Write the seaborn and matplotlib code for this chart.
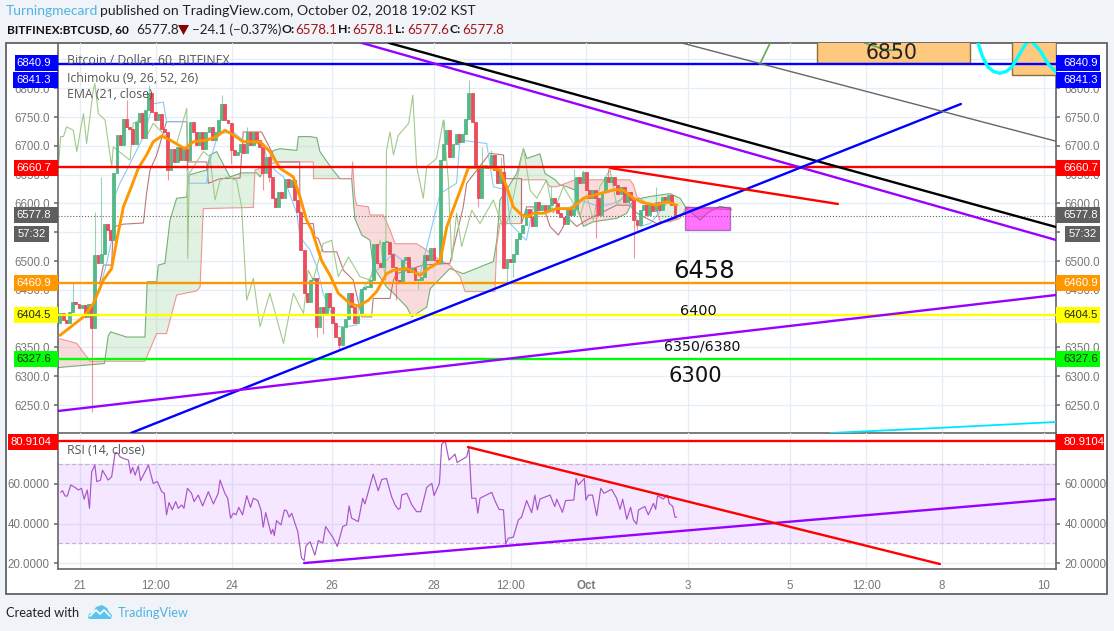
import numpy as np
import matplotlib
matplotlib.use("Agg")
import matplotlib.pyplot as plt
import seaborn as sns
from matplotlib.patches import Rectangle, Polygon

# ---------------------- DATA ----------------------
first_open = 6392
closes = [6409, 6397, 6392, 6412, 6429, 6425, 6418, 6423, 6403, 6425, 6383, 6510, 6496, 6513, 6565, 6554,
          6536, 6652, 6718, 6701, 6747, 6733, 6730, 6704, 6742, 6757, 6713, 6762, 6791, 6759, 6745, 6756,
          6730, 6724, 6658, 6695, 6672, 6698, 6675, 6695, 6675, 6742, 6724, 6701, 6724, 6695, 6724, 6733,
          6710, 6724, 6745, 6773, 6745, 6739, 6692, 6684, 6690, 6704, 6687, 6724, 6701, 6724, 6710, 6698,
          6652, 6681, 6646, 6609, 6594, 6620, 6609, 6643, 6629, 6640, 6606, 6585, 6519, 6444, 6429, 6467,
          6470, 6386, 6420, 6409, 6444, 6420, 6392, 6368, 6354, 6386, 6400, 6444, 6420, 6392, 6406, 6452,
          6455, 6455, 6467, 6530, 6496, 6490, 6533, 6533, 6513, 6490, 6467, 6464, 6501, 6507, 6481, 6487,
          6467, 6467, 6473, 6510, 6501, 6522, 6501, 6496, 6675, 6704, 6727, 6681, 6704, 6721, 6707, 6721,
          6747, 6791, 6742, 6661, 6609, 6661, 6664, 6661, 6684, 6658, 6635, 6655, 6487, 6504, 6499, 6513,
          6539, 6548, 6562, 6591, 6577, 6560, 6603, 6589, 6597, 6589, 6597, 6609, 6600, 6583, 6577, 6565,
          6589, 6580, 6591, 6646, 6635, 6655, 6623, 6609, 6623, 6609, 6580, 6620, 6646, 6638, 6646, 6632,
          6617, 6629, 6603, 6620, 6606, 6571, 6562, 6589, 6597, 6580, 6597, 6586, 6603, 6589, 6612, 6606,
          6615, 6597, 6580, 6577.8]
wick_high = {4: 6461, 11: 6585, 13: 6646, 21: 6779, 28: 6806, 51: 6788, 59: 6732, 121: 6745, 129: 6814,
             133: 6698, 136: 6692, 139: 6680, 162: 6660, 165: 6658, 173: 6661, 188: 6629, 155: 6630}
wick_low = {10: 6238, 34: 6640, 40: 6660, 54: 6669, 64: 6623, 66: 6637, 81: 6368, 83: 6374, 88: 6348,
            106: 6432, 113: 6452, 132: 6594, 141: 6460, 143: 6473, 169: 6540, 181: 6505, 182: 6554}

ema_x = [0, 2.1, 7.4, 10.5, 13.7, 16.3, 17.9, 20, 22.1, 24.7, 27.3, 29.4, 32.1, 34.7, 39.4, 42.1, 46.3, 49.4,
         52, 54.7, 57.8, 63.1, 66.2, 69.4, 73.6, 75.7, 77.8, 79.4, 82.5, 85.2, 87.8, 91.5, 94.1, 97.3, 99.9,
         103, 105.2, 109.4, 113.6, 116.2, 119.9, 122, 124.1, 126.7, 128.8, 134.6, 138.8, 140.9, 143, 145.6,
         147.7, 149.3, 152.5, 156.7, 161.4, 165.1, 170.3, 175.1, 177.7, 180.9, 184, 188.2, 191.4, 194.6]
ema_y = [6371, 6380, 6403, 6426, 6467, 6487, 6536, 6594, 6623, 6661, 6684, 6707, 6717, 6710, 6695, 6707, 6710,
         6716, 6727, 6719, 6707, 6707, 6690, 6661, 6646, 6611, 6571, 6554, 6501, 6475, 6444, 6426, 6422, 6432,
         6447, 6478, 6484, 6487, 6475, 6487, 6499, 6559, 6591, 6629, 6662, 6664, 6658, 6629, 6594, 6580, 6577,
         6583, 6583, 6591, 6591, 6609, 6617, 6624, 6623, 6609, 6601, 6597, 6603, 6597]

lead_a_x = [-0.6, 14, 15.2, 16, 21, 26.8, 27.5, 30.5, 31, 33.1, 34.7, 36.8, 40, 40.5, 44.2, 46.3, 47.3, 49.4, 53.6,
            57.3, 62, 63.1, 67.3, 69.4, 74.7, 75.2, 78.9, 81, 82, 85.7, 88.3, 92, 93, 95.2, 97.8, 98.8, 103, 105.2,
            109.4, 111, 115.7, 116.8, 123, 127.2, 136.7, 137.8, 138.8, 144.1, 146.2, 147.3, 151.4, 153, 156.2,
            157.7, 159.8, 162.5, 163.5, 165.1, 168.2, 175.6, 178.8, 180.9, 186.1, 192.4, 195.6, 197.7, 202, 204.1,
            208.2, 211.9]
lead_a_y = [6315, 6322, 6370, 6377, 6368, 6368, 6464, 6464, 6493, 6496, 6571, 6609, 6611, 6649, 6655, 6658, 6684,
            6690, 6646, 6653, 6653, 6646, 6692, 6695, 6692, 6716, 6716, 6714, 6690, 6661, 6643, 6643, 6574, 6545,
            6536, 6490, 6455, 6444, 6420, 6403, 6420, 6452, 6487, 6478, 6499, 6536, 6606, 6652, 6695, 6678, 6686,
            6652, 6641, 6632, 6629, 6623, 6589, 6560, 6568, 6574, 6583, 6606, 6612, 6617, 6609, 6591, 6571, 6583,
            6595, 6590]
lead_b_x = [0, 5.3, 8.4, 9.5, 26.8, 30.5, 33.6, 34.7, 36.8, 43.1, 44.2, 45.2, 61, 61.5, 68.4, 79.9, 80, 92, 92.3, 93,
            93.6, 97.3, 97.8, 102, 104.1, 105.7, 112.5, 115.7, 119.9, 123, 126.2, 127.8, 137.2, 137.8, 138.8, 145.5,
            145.6, 149.3, 153, 154.6, 156.7, 162.5, 179.8, 180.9, 182, 188.2, 189.3, 192.4, 195.6, 197.7, 202, 211.9]
lead_b_y = [6365, 6357, 6334, 6326, 6326, 6374, 6374, 6397, 6441, 6448, 6455, 6591, 6593, 6658, 6672, 6672, 6643, 6643,
            6672, 6611, 6597, 6594, 6580, 6580, 6554, 6530, 6530, 6519, 6501, 6493, 6473, 6447, 6447, 6530, 6565, 6565,
            6641, 6641, 6641, 6629, 6629, 6641, 6641, 6632, 6612, 6589, 6568, 6568, 6574, 6594, 6591, 6589]

base_x = [12.6, 13.7, 16.3, 16.8, 20, 26.3, 27.3, 28.4, 30.5, 33.6, 40, 40.5, 46.3, 46.8, 50.5, 56.8, 57.8, 63.6, 65.2,
          68.4, 75.6, 75.7, 79.9, 80.4, 81.5, 83, 87.3, 89.4, 92.5, 95.2, 98.3, 98.8, 104.1, 105.2, 106.2, 114.6, 123,
          127.2, 128.3, 135.6, 139.9, 140.4, 145.6, 145.6, 147.2, 152.5, 154.6, 157.2, 158.8, 159.8, 163, 166.1, 175.6,
          179.8, 182, 188.2, 194.6]
base_y = [6464, 6493, 6493, 6559, 6564, 6566, 6617, 6658, 6684, 6742, 6742, 6672, 6672, 6635, 6643, 6644, 6724, 6724, 6707,
          6672, 6672, 6565, 6565, 6542, 6539, 6516, 6516, 6484, 6467, 6403, 6403, 6435, 6435, 6467, 6478, 6493, 6496,
          6594, 6635, 6687, 6684, 6643, 6643, 6565, 6594, 6594, 6560, 6545, 6560, 6577, 6560, 6571, 6597, 6597, 6583,
          6565, 6574]

conv_x = [13.1, 14.7, 16.3, 17.4, 18.9, 22.1, 26.3, 29.4, 32.6, 33.6, 40, 40.5, 46.3, 46.8, 49.9, 54.7, 58.9, 64.1, 65.7,
          68.4, 70.5, 74.7, 75.7, 78.9, 81, 83, 87.3, 90.4, 93.6, 94.6, 98.8, 105.2, 113.6, 119.9, 125.1, 126.2, 134.6,
          136.7, 140.9, 142, 145, 147.1, 149.3, 159.8, 164, 170.3, 174.5, 178.8, 183, 186.1, 191.4, 193.5]
conv_y = [6464, 6496, 6536, 6614, 6635, 6669, 6716, 6773, 6776, 6742, 6742, 6635, 6635, 6664, 6721, 6724, 6704, 6704, 6669,
          6655, 6646, 6583, 6542, 6519, 6490, 6444, 6386, 6386, 6389, 6444, 6478, 6513, 6478, 6617, 6635, 6710, 6704,
          6629, 6623, 6565, 6548, 6536, 6594, 6589, 6606, 6594, 6600, 6612, 6560, 6565, 6600, 6606]

lag_x = [-0.5, 0.2, 1.1, 2.1, 4.2, 5.3, 7.4, 8.4, 10.5, 11, 12.1, 14.2, 16.3, 16.8, 22.1, 23.1, 25.2, 27.3, 29.4, 33.6,
         36.8, 40, 40.3, 40.8, 45.2, 47.3, 48.9, 50.5, 52.6, 55.7, 57.3, 58.9, 61, 63.1, 66.2, 70.5, 73.6, 76.8, 78.3,
         79.9, 83, 85.7, 87.8, 91, 94.6, 97.8, 101, 102.7, 103, 104.1, 105.2, 106.7, 110, 111.3, 112.5, 114.6, 115.7,
         118.8, 120.9, 122.5, 123.6, 125.1, 126.7, 129.9, 132.5, 136.7, 140, 142, 144.1, 146.2, 148.3, 150.4, 153.5,
         155.6, 158.8, 162, 164, 166.1, 168.2, 170.3, 173.5, 175.6, 177.7]
lag_y = [6664, 6716, 6716, 6733, 6727, 6690, 6756, 6704, 6797, 6808, 6756, 6745, 6664, 6698, 6675, 6739, 6745, 6716, 6739,
         6716, 6704, 6765, 6504, 6652, 6690, 6681, 6606, 6640, 6646, 6640, 6594, 6432, 6470, 6386, 6444, 6357, 6444, 6409,
         6484, 6467, 6530, 6536, 6473, 6507, 6473, 6467, 6536, 6467, 6692, 6724, 6684, 6718, 6739, 6788, 6664, 6609, 6664,
         6678, 6745, 6640, 6501, 6583, 6525, 6588, 6565, 6606, 6554, 6583, 6640, 6696, 6623, 6609, 6641, 6583, 6629, 6600,
         6577, 6615, 6571, 6629, 6658, 6597, 6612]

rsi_x = [0.2, 0.8, 1.6, 2.3, 3.4, 4.7, 5.8, 6.8, 7.6, 8.6, 9.3, 10, 11, 11.6, 12.8, 13.4, 15.2, 16.3, 17.4, 18.1, 18.9, 20,
         21.6, 22.3, 22.9, 23.7, 24.7, 25.4, 27.9, 29.4, 30.7, 32.1, 32.9, 33.6, 34.4, 35.4, 36.5, 37.3, 38.4, 39.1, 40.2,
         41.5, 42.3, 43.6, 45, 46.8, 48.4, 49.9, 50.5, 52, 52.9, 53.8, 54.7, 55.5, 56.4, 57.6, 58.9, 60.1, 61, 62.4, 63.4,
         64.1, 64.9, 66.6, 67.1, 67.6, 68.3, 69.7, 70.8, 71.5, 72.3, 73.1, 74.1, 75, 76.2, 77, 77.6, 78.9, 80.4, 81.5, 82.9,
         83.8, 84.6, 86.2, 87.5, 89.2, 90.4, 91.2, 92, 94.1, 95.5, 96.2, 98.8, 100.4, 101.5, 103, 104.6, 105.7, 106.7, 107.3,
         107.8, 109.4, 111, 112.5, 113.8, 115.7, 117.3, 118, 119.7, 120.4, 121.5, 122.7, 124.6, 125.3, 128.3, 129, 129.9,
         131.2, 131.8, 132.5, 136.2, 137.2, 138.5, 139.9, 140.6, 141.4, 143, 144.6, 145.6, 147.2, 148.8, 149.8, 150.6, 151.4,
         154.6, 156.1, 156.7, 158.5, 159.5, 162.1, 162.8, 163.5, 165.4, 165.9, 166.7, 168, 169.3, 170.6, 171.6, 174, 175.6,
         176.7, 177.5, 178.8, 180, 180.9, 181.9, 182.5, 184.5, 185.6, 187.2, 187.9, 188.5, 190.3, 191.6, 192.2, 193.3, 194,
         194.6]
rsi_y = [55.8, 56.6, 53.9, 53.9, 59.5, 58.3, 57, 57.8, 52.3, 57, 47.7, 66.2, 69.6, 61.2, 62, 67, 62, 63.7, 75.8, 75.8, 73.8,
         72.9, 72.1, 65.4, 68.4, 64.5, 69.1, 61.7, 69.6, 60.3, 61.2, 56.1, 55.3, 44.4, 50.6, 46.9, 51.1, 47.7, 49.4, 47.7,
         57.8, 55.3, 51.1, 54.4, 48.9, 56.1, 49.9, 55.3, 62, 55.3, 52.8, 42.7, 45.2, 44.4, 48.2, 44.4, 54.1, 48.2, 52.8, 51.6,
         46.9, 38.1, 45.5, 34.8, 37.1, 33.9, 41.5, 39.3, 46.9, 46.5, 43.2, 45.2, 40.2, 36, 22.5, 21.3, 28.7, 30.8, 24, 31.4,
         30.1, 38.5, 36.5, 32.6, 28.4, 38.5, 39.3, 48.9, 42.7, 41, 52.8, 49.9, 65, 56.6, 62.3, 62.8, 53.6, 49.4, 47.2, 47.7,
         54.4, 55.3, 49.4, 46, 46, 58.3, 60.3, 54.1, 60.3, 80.1, 81.8, 72.1, 75.1, 70.9, 73.8, 78.5, 52.8, 52.8, 45.2, 52.8,
         55.8, 51.6, 47.2, 46.9, 29.7, 32.6, 33.1, 41.8, 43.2, 51.6, 45.5, 54.4, 46.9, 52.4, 54.4, 48.6, 52.3, 45.7, 51.6, 51.9,
         62.8, 59.5, 62.8, 51.9, 54.4, 54.4, 44, 57.8, 55.3, 57.3, 52.8, 47.2, 52.3, 42.2, 48.2, 41.8, 39.7, 46.9, 48.6, 44.4,
         50.2, 47.2, 54.1, 52.4, 54.4, 50.2, 48.6, 43.2, 43.2]

hline_prices = [6842.9, 6662.7, 6462, 6406, 6330.5]
hline_colors = ['#0000FF', '#FF0000', '#FF9800', '#FFFF00', '#00FF00']

price_ticks = [6250, 6300, 6350, 6400, 6450, 6500, 6550, 6600, 6650, 6700, 6750, 6800, 6850]
rsi_ticks = [20, 40, 60]
time_ticks = [6.3, 30.3, 54.3, 85.8, 118, 142.3, 165.9, 198.1, 230.3, 254.3, 278.2, 310.4]
time_labels = ['21', '12:00', '24', '26', '28', '12:00', 'Oct', '3', '5', '12:00', '8', '10']

# ---------------------- STYLE ----------------------
sns.set_theme(style="white")
plt.rcParams['font.family'] = ['Open Sans', 'DejaVu Sans']

W, H = 1114, 631
GREEN, RED = '#53B987', '#EB4D5C'
TICK_FONT = 'Liberation Sans'
HEAD_FONT = 'Lato'

fig = plt.figure(figsize=(W / 100, H / 100), dpi=100, facecolor='#F0F3F7')


def px_axes(left, top, right, bottom):
    return [left / W, 1 - bottom / H, (right - left) / W, (bottom - top) / H]


bg = fig.add_axes([0, 0, 1, 1], zorder=0)
bg.set_xlim(0, W)
bg.set_ylim(H, 0)
bg.axis('off')
bg.add_patch(Rectangle((6, 43), 1101, 551, facecolor='white', edgecolor='#555555', linewidth=1.2))

ax = fig.add_axes(px_axes(58, 43, 1056, 433), zorder=1)
ax2 = fig.add_axes(px_axes(58, 433, 1056, 569), zorder=1)

top = fig.add_axes([0, 0, 1, 1], zorder=5)
top.set_xlim(0, W)
top.set_ylim(H, 0)
top.axis('off')
top.patch.set_alpha(0)


def draw(target, xs, ys, color, lw, z=3, alpha=1.0, ls='-'):
    sns.lineplot(x=xs, y=ys, ax=target, color=color, linewidth=lw, estimator=None, sort=False,
                 errorbar=None, legend=False, zorder=z, alpha=alpha, linestyle=ls)


# =========================================================
# Ichimoku cloud
# =========================================================
cloud_x = np.array(sorted(set(lead_a_x) | set(lead_b_x)))
a_line = np.interp(cloud_x, lead_a_x, lead_a_y)
b_line = np.interp(cloud_x, lead_b_x, lead_b_y)
ax.fill_between(cloud_x, a_line, b_line, where=a_line >= b_line, interpolate=True, color='#A5D6A7', alpha=0.33,
                linewidth=0, zorder=1.5)
ax.fill_between(cloud_x, a_line, b_line, where=a_line < b_line, interpolate=True, color='#EF9A9A', alpha=0.35,
                linewidth=0, zorder=1.5)
draw(ax, lead_a_x, lead_a_y, '#66A868', 0.8, z=2, alpha=0.9)
draw(ax, lead_b_x, lead_b_y, '#F08A8A', 0.8, z=2, alpha=0.9)
draw(ax, base_x, base_y, '#B5696B', 0.8, z=2, alpha=0.9)
draw(ax, conv_x, conv_y, '#7EC4F5', 0.8, z=2, alpha=0.9)
draw(ax, lag_x, lag_y, '#A2C98A', 0.8, z=2)

# =========================================================
# Candles
# =========================================================
opens = [first_open] + closes[:-1]
bars = np.arange(len(closes))
candle_colors = [GREEN if c >= o else RED for o, c in zip(opens, closes)]
for i, (o, c) in enumerate(zip(opens, closes)):
    hi = wick_high.get(i, max(o, c))
    lo = wick_low.get(i, min(o, c))
    ax.vlines(i, lo, hi, color=candle_colors[i], linewidth=0.8, alpha=0.6, zorder=2.8)
body_low = np.minimum(opens, closes)
body_h = np.maximum(np.abs(np.array(closes) - np.array(opens)), 1)
ax.bar(bars, body_h, bottom=body_low, width=0.9, linewidth=0.6, zorder=3, color=candle_colors,
       edgecolor=candle_colors)

ax.axhline(closes[-1], color='#666666', linewidth=0.8, linestyle=':', zorder=2.5)
draw(ax, ema_x, ema_y, '#FF9800', 2.1, z=4)

# =========================================================
# Drawings on the price pane
# =========================================================
ax.add_patch(Rectangle((238.8, 6844), 48.3, 60, facecolor='#FFC87F', edgecolor='#8A6D3B', linewidth=1, zorder=4.4))
ax.add_patch(Rectangle((300.3, 6823), 14, 80, facecolor='#FFC87F', edgecolor='#8A6D3B', linewidth=1, zorder=4.4))
ax.add_patch(Rectangle((197.2, 6553.8), 14.2, 40, facecolor='#FF00FF', alpha=0.55, edgecolor='#7B2D8B', linewidth=1,
                       zorder=4.4))

for value, col in zip(hline_prices, hline_colors):
    ax.axhline(value, color=col, linewidth=1.7, zorder=4.5)

draw(ax, [103.8, 314.2], [6878.5, 6559], '#000000', 1.7, z=5)
draw(ax, [95.3, 314.2], [6878.5, 6536.5], '#9900FF', 1.7, z=5)
draw(ax, [22.4, 284.2], [6201.4, 6772.6], '#0000FF', 1.7, z=5)
draw(ax, [-0.6, 314.2], [6239.6, 6441], '#9900FF', 1.7, z=5)
draw(ax, [173.5, 245.4], [6661.5, 6599], '#FF0000', 1.7, z=5)
draw(ax, [196.2, 314.2], [6878.5, 6708], '#666666', 1.0, z=5)
draw(ax, [243, 280, 314.2], [6201.4, 6211, 6220.5], '#00E5FF', 1.3, z=5)
draw(ax, [289.6, 291, 292.7, 294.5, 296.5, 298.5, 300.3, 302.5, 304.4, 306, 309.1, 312, 314.2],
     [6878.5, 6855, 6837, 6829, 6826, 6829, 6837, 6857, 6875, 6884, 6866, 6840, 6828], '#00FFFF', 2.4, z=5)
draw(ax, [220.8, 224], [6842, 6878.5], '#6AA84F', 1.2, z=5)
draw(ax, [253.8, 258.5, 261.5, 265], [6878.5, 6870, 6866, 6866], '#6AA84F', 1.2, z=4.6)

ax.text(262.5, 6861, '6850', fontsize=14.8, ha='center', va='center', family='DejaVu Sans', color='#222222', zorder=6)
ax.text(203.2, 6482.6, '6458', fontsize=17.5, ha='center', va='center', family='DejaVu Sans', color='#111111', zorder=6)
ax.text(201.3, 6413, '6400', fontsize=10.4, ha='center', va='center', family='DejaVu Sans', color='#111111', zorder=6)
ax.text(202.5, 6352.4, '6350/6380', fontsize=10.2, ha='center', va='center', family='DejaVu Sans', color='#111111',
        zorder=6)
ax.text(200.3, 6300, '6300', fontsize=15.2, ha='center', va='center', family='DejaVu Sans', color='#111111', zorder=6)

# =========================================================
# RSI pane
# =========================================================
ax2.axhspan(30, 70, facecolor='#9915FF', alpha=0.1, linewidth=0, zorder=1)
ax2.axhline(70, color='#C9B3D9', linewidth=0.9, linestyle='--', zorder=1.5)
ax2.axhline(30, color='#C9B3D9', linewidth=0.9, linestyle='--', zorder=1.5)
draw(ax2, rsi_x, rsi_y, '#A855C8', 0.85, z=3)
ax2.axhline(81.6, color='#FF0000', linewidth=1.7, zorder=4)
draw(ax2, [128.7, 277.6], [78.7, 19.5], '#FF0000', 1.7, z=5)
draw(ax2, [77, 314.2], [20, 52.4], '#9900FF', 1.7, z=4.5)

# =========================================================
# Axes
# =========================================================
ax.set_xlim(-0.63, 314.2)
ax.set_ylim(6201.4, 6878.5)
ax2.set_xlim(-0.63, 314.2)
ax2.set_ylim(17, 85.8)

for target in (ax, ax2):
    target.set_facecolor('none')
    target.set_xticks(time_ticks)
    target.grid(True, color='#E6EEF5', linewidth=0.9, zorder=0)
    target.set_axisbelow(True)
    target.set_xlabel('')
    target.set_ylabel('')
    for name, spine in target.spines.items():
        spine.set_color('#666666')
        spine.set_linewidth(1.2)
    target.spines['top'].set_visible(False)
    target.tick_params(axis='y', which='both', left=True, right=True, labelleft=True, labelright=True, length=3,
                       color='#777777', labelcolor='#777777', labelsize=8.3, pad=3)

ax.set_yticks(price_ticks, labels=[f'{v:.1f}' for v in price_ticks], family=TICK_FONT)
ax.tick_params(axis='x', which='both', bottom=False, labelbottom=False)
ax2.set_yticks(rsi_ticks, labels=[f'{v:.4f}' for v in rsi_ticks], family=TICK_FONT)
ax2.set_xticks(time_ticks, labels=time_labels, family=TICK_FONT)
ax2.tick_params(axis='x', length=3, color='#777777', labelcolor='#777777', labelsize=8.3, pad=5)
for label in ax2.get_xticklabels():
    if label.get_text() == 'Oct':
        label.set_fontweight('bold')

# =========================================================
# Price tags
# =========================================================
tag_text = ['6840.9', '6841.3', '6660.7', '6577.8', '57:32', '6460.9', '6404.5', '6327.6', '80.9104']
tag_color = ['#0000FF', '#0000FF', '#FF0000', '#5F5F5F', '#5F5F5F', '#FF9800', '#FFFF00', '#00FF00', '#FF0000']
tag_ink = ['white', 'white', 'white', 'white', 'white', 'white', '#222222', '#222222', 'white']
tag_top = [55, 72, 160, 207, 226, 275, 307, 351, 434]
tag_left_x = [15, 13, 14, 14, 14, 14, 14, 14, 8]
tag_right_x = [1100, 1101, 1100, 1100, 1100, 1100, 1100, 1100, 1104]

for txt, col, ink, y0, xl, xr in zip(tag_text, tag_color, tag_ink, tag_top, tag_left_x, tag_right_x):
    xl1 = 49 if txt == '57:32' else 58
    rx0 = 1065 if txt == '57:32' else 1056
    top.add_patch(Rectangle((xl, y0), xl1 - xl, 16, facecolor=col, edgecolor='none'))
    top.add_patch(Rectangle((rx0, y0), xr - rx0, 16, facecolor=col, edgecolor='none'))
    top.text(xl1 - (3 if txt == '57:32' else 7), y0 + 8, txt, color=ink, fontsize=8.1, ha='right', va='center',
             family=TICK_FONT)
    top.text(rx0 + (4 if txt == '57:32' else 7), y0 + 8, txt, color=ink, fontsize=8.1, ha='left', va='center',
             family=TICK_FONT)

# =========================================================
# Legend titles and page text
# =========================================================
for txt, y in [('Bitcoin / Dollar, 60, BITFINEX', 60), ('Ichimoku (9, 26, 52, 26)', 78), ('EMA (21, close)', 95),
               ('RSI (14, close)', 450)]:
    top.text(67, y, txt, color='#555555', fontsize=8.8, va='center')

top.text(6, 11, 'Turningmecard', color='#4FB3E3', fontsize=10, va='center', family=HEAD_FONT)
top.text(100, 11, 'published on TradingView.com, October 02, 2018 19:02 KST', color='#222222', fontsize=10.1, va='center',
         family=HEAD_FONT)

top.text(7, 29.5, 'BITFINEX:BTCUSD, 60', color='#111111', fontsize=8.5, fontweight='bold', va='center', family=HEAD_FONT)
top.text(136, 29.5, '6577.8', color='#222222', fontsize=9.8, va='center', family=HEAD_FONT)
top.add_patch(Polygon([(178, 25), (189, 25), (183.5, 35)], facecolor='#8B0000', edgecolor='none'))
top.text(192, 29.5, '\u221224.1 (\u22120.37%)', color='#222222', fontsize=9.6, va='center', family=HEAD_FONT)
for lab, x_lab, val, x_val in [('O:', 281, '6578.1', 295), ('H:', 338, '6578.1', 352), ('L:', 395, '6577.6', 407),
                               ('C:', 449, '6577.8', 462)]:
    top.text(x_lab, 29.5, lab, color='#111111', fontsize=8.8, fontweight='bold', va='center', family=HEAD_FONT)
    top.text(x_val, 29.5, val, color='#A31515', fontsize=9.6, va='center', family=HEAD_FONT)

top.text(6, 613, 'Created with', color='#222222', fontsize=9.3, va='center', family=HEAD_FONT)
top.add_patch(Polygon([(88, 618), (89, 614), (93, 612), (96, 607), (102, 605), (107, 608), (109, 612), (112, 615), (111, 619),
                       (90, 619)], facecolor='#5CC3EC', edgecolor='none'))
top.plot([90, 96, 100, 104, 110], [616, 610, 614, 610, 616], color='white', linewidth=1.2)
top.text(118, 613, 'TradingView', color='#4FB3E3', fontsize=9.2, va='center', family=HEAD_FONT)

fig.savefig('out.png', dpi=100, facecolor=fig.get_facecolor())
